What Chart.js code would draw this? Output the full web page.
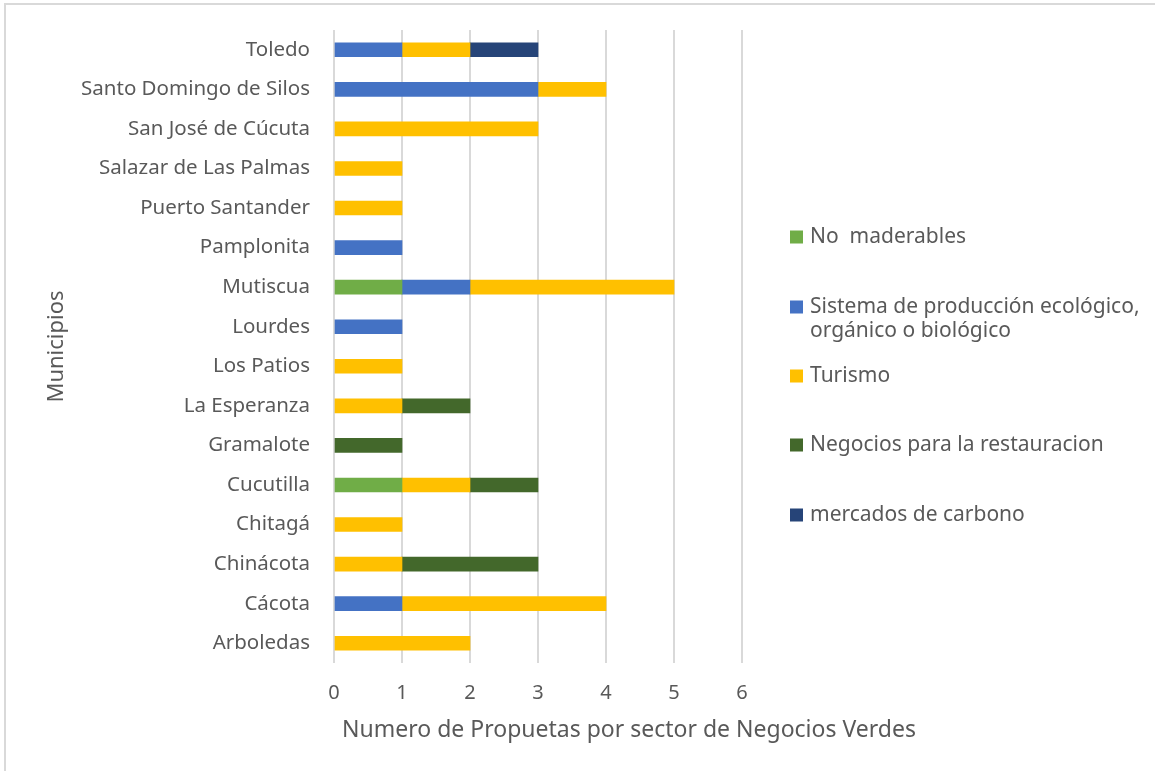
<!DOCTYPE html>
<html>
<head>
<meta charset="utf-8">
<script src="https://cdn.jsdelivr.net/npm/chart.js@4"></script>
<style>
  html, body { margin: 0; padding: 0; background: #fff; }
  canvas { display: block; }
</style>
</head>
<body>
<canvas id="chart" width="1155" height="771"></canvas>
<script>
// Municipios (alphabetical; drawn bottom-to-top)
const municipios = [
  'Arboledas', 'Cácota', 'Chinácota', 'Chitagá', 'Cucutilla', 'Gramalote',
  'La Esperanza', 'Los Patios', 'Lourdes', 'Mutiscua', 'Pamplonita',
  'Puerto Santander', 'Salazar de Las Palmas', 'San José de Cúcuta',
  'Santo Domingo de Silos', 'Toledo'
];

// Number of proposals per green-business sector
const noMaderables      = [0, 0, 0, 0, 1, 0, 0, 0, 0, 1, 0, 0, 0, 0, 0, 0];
const sistemaProduccion = [0, 1, 0, 0, 0, 0, 0, 0, 1, 1, 1, 0, 0, 0, 3, 1];
const turismo           = [2, 3, 1, 1, 1, 0, 1, 1, 0, 3, 0, 1, 1, 3, 1, 1];
const restauracion      = [0, 0, 2, 0, 1, 1, 1, 0, 0, 0, 0, 0, 0, 0, 0, 0];
const carbono           = [0, 0, 0, 0, 0, 0, 0, 0, 0, 0, 0, 0, 0, 0, 0, 1];

const seriesNames = [
  'No  maderables',
  ['Sistema de producción ecológico,', 'orgánico o biológico'],
  'Turismo',
  'Negocios para la restauracion',
  'mercados de carbono'
];
const seriesColors = ['#70AD47', '#4472C4', '#FFC000', '#43682B', '#264478'];
const xTickValues = [0, 1, 2, 3, 4, 5, 6];
const xAxisTitle = 'Numero de Propuetas por sector de Negocios Verdes';

const FONT = "'Noto Sans', 'DejaVu Sans', sans-serif";
const TEXT = '#595959';
const GRID = '#D9D9D9';

// Outer frame (top and left edges)
const framePlugin = {
  id: 'frame',
  beforeDraw(chart) {
    const ctx = chart.ctx;
    ctx.save();
    ctx.fillStyle = '#fff';
    ctx.fillRect(0, 0, chart.width, chart.height);
    ctx.strokeStyle = GRID;
    ctx.lineWidth = 2;
    ctx.beginPath();
    ctx.moveTo(chart.width, 4);
    ctx.lineTo(5, 4);
    ctx.lineTo(5, chart.height);
    ctx.stroke();
    ctx.restore();
  }
};

// Horizontal axis title, wider than the plot area
const xTitlePlugin = {
  id: 'xTitle',
  afterDraw(chart) {
    const ctx = chart.ctx;
    ctx.save();
    ctx.font = "23px " + FONT;
    ctx.fillStyle = TEXT;
    ctx.textAlign = 'center';
    ctx.textBaseline = 'middle';
    ctx.fillText(xAxisTitle, 629, 730);
    ctx.restore();
  }
};

// Legend on the right, one entry per dataset
const sideLegend = {
  id: 'sideLegend',
  afterDraw(chart) {
    const ctx = chart.ctx;
    const boxX = 790, box = 13, textX = 810, lineH = 24;
    const rows = [237, 307, 376, 445, 515];
    ctx.save();
    ctx.font = "21px " + FONT;
    ctx.textBaseline = 'middle';
    ctx.textAlign = 'left';
    chart.data.datasets.forEach((ds, i) => {
      const y = rows[i];
      ctx.fillStyle = ds.backgroundColor;
      ctx.fillRect(boxX, y - box / 2, box, box);
      ctx.fillStyle = TEXT;
      const lines = Array.isArray(ds.label) ? ds.label : [ds.label];
      lines.forEach((t, k) => ctx.fillText(t, textX, y + k * lineH));
    });
    ctx.restore();
  }
};

const datasetValues = [noMaderables, sistemaProduccion, turismo, restauracion, carbono];

new Chart(document.getElementById('chart'), {
  type: 'bar',
  data: {
    labels: municipios,
    datasets: datasetValues.map((vals, i) => ({
      label: seriesNames[i],
      // a zero count draws no segment
      data: vals.map(v => (v === 0 ? null : v)),
      backgroundColor: seriesColors[i],
      borderWidth: 0,
      barThickness: 14
    }))
  },
  options: {
    indexAxis: 'y',
    responsive: false,
    animation: false,
    layout: { padding: { top: 30, right: 413, left: 0, bottom: 0 } },
    plugins: {
      legend: { display: false },
      tooltip: { enabled: false }
    },
    scales: {
      x: {
        stacked: true,
        min: 0,
        max: 6,
        afterBuildTicks(scale) {
          scale.ticks = xTickValues.map(v => ({ value: v }));
        },
        grid: { color: GRID, lineWidth: 2, drawTicks: false },
        border: { display: false },
        ticks: { color: TEXT, font: { family: FONT, size: 20 }, padding: 18 },
        afterFit(scale) {
          scale.height = 108;
          scale.paddingLeft = 0;
          scale.paddingRight = 0;
        }
      },
      y: {
        stacked: true,
        reverse: true,
        grid: { display: false, drawTicks: false },
        border: { display: false },
        ticks: { color: TEXT, font: { family: FONT, size: 20.5 }, padding: 24 },
        title: {
          display: true,
          text: 'Municipios',
          color: TEXT,
          font: { family: FONT, size: 22 },
          padding: { top: 44, bottom: 0 }
        },
        afterFit(scale) {
          scale.width = 334;
          scale.paddingTop = 0;
          scale.paddingBottom = 0;
        }
      }
    }
  },
  plugins: [framePlugin, xTitlePlugin, sideLegend]
});
</script>
</body>
</html>
